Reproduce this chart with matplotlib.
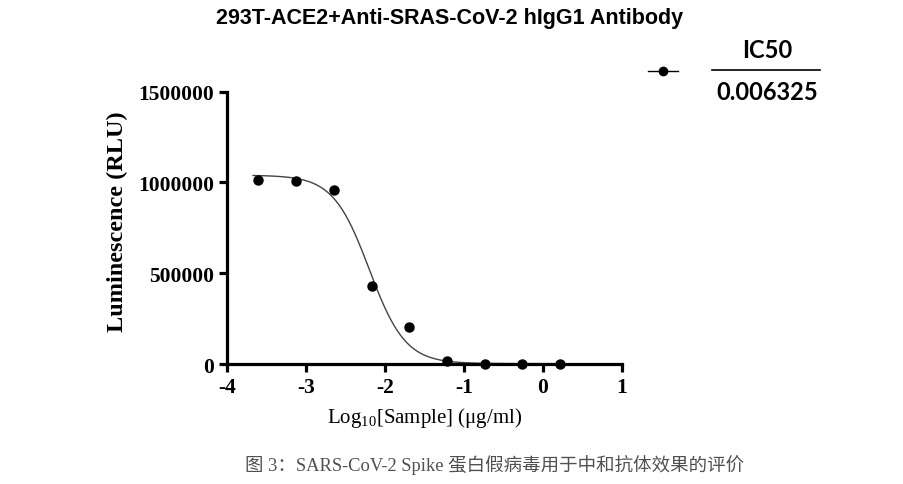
import numpy as np
import matplotlib.pyplot as plt

plt.rcParams['mathtext.fontset'] = 'custom'
plt.rcParams['mathtext.rm'] = 'Liberation Serif'
plt.rcParams['axes.unicode_minus'] = False

# data
log_conc = [-3.61, -3.13, -2.65, -2.17, -1.70, -1.22, -0.74, -0.26, 0.215]
rlu = [1015000, 1008000, 959000, 430000, 202000, 16000, 2000, 1000, 1000]

# 4PL fit parameters (curve drawn from these)
fit_top = 1040000
fit_bottom = 2000
fit_log_ic50 = np.log10(0.006325)
fit_hill = 1.9
ic50_text = "0.006325"

title = "293T-ACE2+Anti-SRAS-CoV-2 hIgG1 Antibody"
caption = "图 3：SARS-CoV-2 Spike 蛋白假病毒用于中和抗体效果的评价"

fig = plt.figure(figsize=(9.04, 4.85), dpi=100)
ax = fig.add_axes([0.2511, 0.2474, 0.4370, 0.5615])

xs = np.linspace(-3.67, 0.25, 300)
ys = fit_bottom + (fit_top - fit_bottom) / (1 + 10 ** ((xs - fit_log_ic50) * fit_hill))
ax.plot(xs, ys, color='#444444', lw=1.0)
ax.plot(log_conc, rlu, 'o', color='black', ms=6.5, clip_on=False, zorder=5)

ax.set_xlim(-4, 1)
ax.set_ylim(0, 1500000)
ax.set_xticks([-4, -3, -2, -1, 0, 1])
ax.set_xticklabels(['-4', '-3', '-2', '-1', '0', '1'])
ax.set_yticks([0, 500000, 1000000, 1500000])
ax.set_yticklabels(['0', '500000', '1000000', '1500000'])
for s in ['top', 'right']:
    ax.spines[s].set_visible(False)
for s in ['left', 'bottom']:
    ax.spines[s].set_linewidth(2.3)
ax.tick_params(width=2.3, length=6, direction='out', pad=3)
for lab in ax.get_xticklabels() + ax.get_yticklabels():
    lab.set_fontfamily('Liberation Serif')
    lab.set_fontweight('bold')
    lab.set_fontsize(15.5)

ax.set_ylabel('Luminescence (RLU)', family='Liberation Serif', weight='bold',
              fontsize=17.5)
ax.yaxis.set_label_coords(-0.25, 0.526)
ax.set_xlabel(r'Log$_{\mathregular{10}}$[Sample] (μg/ml)', family='Liberation Serif',
              fontsize=15, labelpad=6)

fig.text(0.497, 0.962, title, ha='center', va='center', family='Liberation Sans',
         weight='bold', fontsize=15.5)

# legend-like block
fig.lines.append(plt.Line2D([648 / 904, 678 / 904], [1 - 72 / 485] * 2, color='black',
                            lw=1, transform=fig.transFigure))
fig.lines.append(plt.Line2D([663 / 904], [1 - 72 / 485], color='black', marker='o', ms=6,
                            transform=fig.transFigure))
fig.lines.append(plt.Line2D([712 / 904, 820 / 904], [1 - 71 / 485] * 2, color='black',
                            lw=1.2, transform=fig.transFigure))
fig.text(767 / 904, 1 - 50 / 485, 'IC50', ha='center', va='center', family='Lato',
         weight='bold', fontsize=17)
fig.text(767 / 904, 1 - 92 / 485, ic50_text, ha='center', va='center', family='Lato',
         weight='bold', fontsize=17)

fig.text(0.547, 1 - 465 / 485, caption, ha='center', va='center', color='#505050',
         family=['Liberation Serif', 'Noto Sans CJK SC'], fontsize=13.3)

fig.savefig('out.png', dpi=100)
